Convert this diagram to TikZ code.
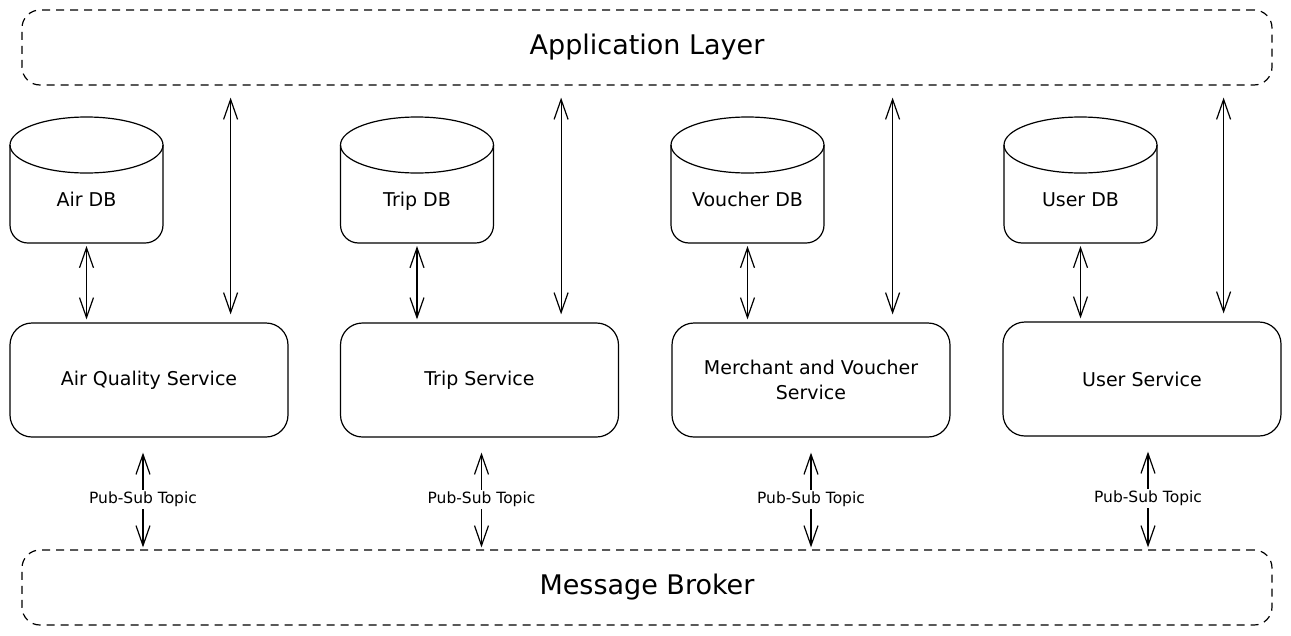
\documentclass[tikz,border=0pt]{standalone}
\usepackage{fontspec}
\setmainfont{DejaVu Sans}
\usepackage{tikz}
\usetikzlibrary{arrows.meta,calc}

\begin{document}
\begin{tikzpicture}[x=1pt,y=-1pt,line width=1.2pt,
    layerbox/.style={draw,dash pattern=on 8pt off 6pt,rounded corners=18pt,minimum width=1250pt,minimum height=75pt,font=\fontsize{27}{32}\selectfont},
    svcbox/.style={draw,rounded corners=22pt,minimum width=278pt,minimum height=114pt,align=center,font=\fontsize{19}{25}\selectfont},
    dbbody/.style={minimum width=153pt,minimum height=98pt,outer sep=0pt,text height=30pt,text depth=5pt,font=\fontsize{19}{24}\selectfont},
    biarrow/.style={{Straight Barb[length=20pt,width=14pt]}-{Straight Barb[length=20pt,width=14pt]}},
    topiclabel/.style={fill=white,inner sep=2pt,font=\fontsize{15.5}{18}\selectfont}]
    \useasboundingbox (0,0) rectangle (1291,635);

    \node[layerbox] (app) at (647,47.5) {Application Layer};
    \node[layerbox] (broker) at (647,587.5) {Message Broker};

    \node[svcbox] (airsvc) at (149,380) {Air Quality Service};
    \node[svcbox] (tripsvc) at (479.5,380) {Trip Service};
    \node[svcbox] (vouchersvc) at (811,380) {Merchant and Voucher\\Service};
    \node[svcbox] (usersvc) at (1142,379) {User Service};

    \node[dbbody] (airdb) at (86.5,194) {Air DB};
    \node[dbbody] (tripdb) at (417,194) {Trip DB};
    \node[dbbody] (voucherdb) at (747.5,194) {Voucher DB};
    \node[dbbody] (userdb) at (1080.5,194) {User DB};

    % database outlines
    \foreach \db in {airdb,tripdb,voucherdb,userdb}{
        \draw[rounded corners=18pt] (\db.north west) -- (\db.south west) -- (\db.south east) -- (\db.north east);
        \draw (\db.north) ellipse [x radius=76.5pt,y radius=28pt];
    }

    % connectors
    \foreach \db/\svc/\dx in {airdb/airsvc/-6,tripdb/tripsvc/2,voucherdb/vouchersvc/0,userdb/usersvc/6}{
        \draw[biarrow,shorten <=3pt,shorten >=3pt] (\db.south) -- (\db.south |- \svc.north);
        \draw[biarrow,shorten <=12pt,shorten >=8pt] (app.south -| {$(\svc.north east)+(-58,0)$}) -- ($(\svc.north east)+(-58,0)$);
        \draw[biarrow,shorten <=15pt,shorten >=2pt] ($(\svc.south)+(\dx,0)$) -- ($(\svc.south |- broker.north)+(\dx,0)$)
            node[pos=0.55,topiclabel] {Pub-Sub Topic};
    }
\end{tikzpicture}
\end{document}
